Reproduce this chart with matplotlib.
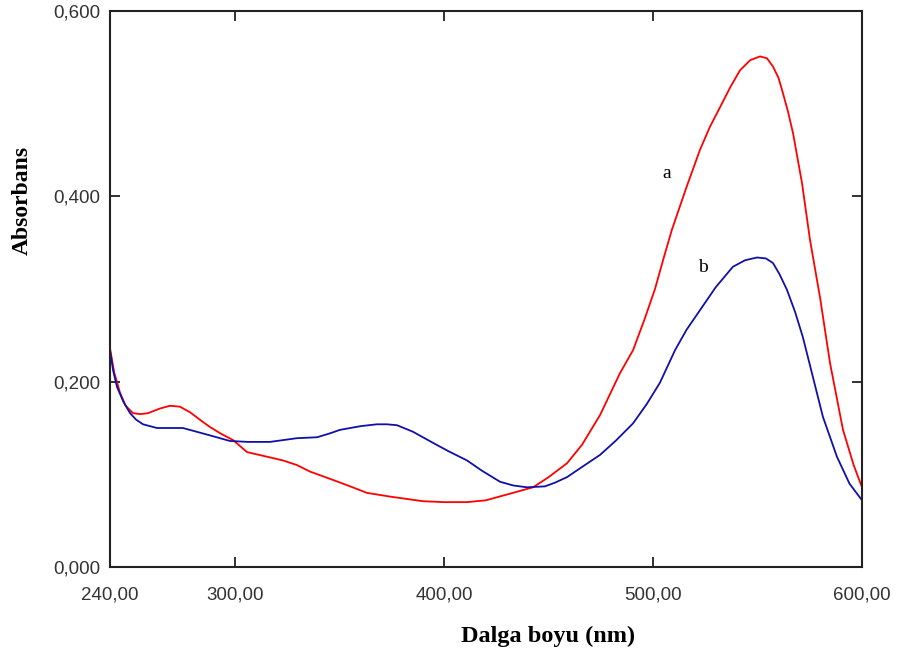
import matplotlib.pyplot as plt

# curve a (red)
wl_a = [240.0, 242.0, 244.8, 247.5, 251.0, 254.5, 258.2, 263.9, 268.7, 273.5,
        278.3, 283.0, 287.9, 293.0, 298.9, 305.6, 315.2, 322.8, 329.5, 335.7,
        346.7, 355.0, 363.0, 374.0, 389.8, 400.0, 410.9, 420.0, 432.9, 442.5,
        450.0, 458.8, 466.0, 474.6, 484.1, 490.4, 496.0, 500.9, 505.0, 509.0,
        516.0, 522.4, 527.2, 532.0, 537.0, 541.6, 546.5, 551.2, 554.5, 557.4,
        560.0, 562.2, 564.5, 567.0, 571.3, 575.1, 579.9, 584.7, 590.9, 596.0,
        600.0]
abs_a = [0.236, 0.210, 0.188, 0.174, 0.166, 0.165, 0.166, 0.171, 0.174, 0.173,
         0.167, 0.159, 0.151, 0.144, 0.137, 0.124, 0.119, 0.115, 0.110, 0.103,
         0.094, 0.087, 0.080, 0.076, 0.071, 0.070, 0.070, 0.072, 0.080, 0.086,
         0.097, 0.112, 0.132, 0.164, 0.209, 0.234, 0.268, 0.300, 0.333, 0.364,
         0.410, 0.450, 0.475, 0.496, 0.518, 0.536, 0.547, 0.551, 0.549, 0.540,
         0.528, 0.511, 0.492, 0.468, 0.414, 0.353, 0.291, 0.220, 0.148, 0.110,
         0.086]

# curve b (blue)
wl_b = [240.0, 241.5, 243.4, 246.5, 249.6, 252.5, 255.8, 262.5, 274.9, 287.9,
        297.4, 306.0, 316.6, 329.5, 339.1, 345.0, 350.1, 360.0, 367.8, 372.5,
        377.4, 385.0, 394.6, 402.0, 410.9, 418.0, 426.7, 433.0, 439.6, 448.2,
        453.0, 458.8, 466.0, 474.6, 482.0, 490.4, 497.0, 503.3, 510.5, 516.0,
        522.4, 530.0, 538.2, 544.0, 549.7, 554.0, 557.4, 560.5, 564.1, 568.0,
        571.7, 576.5, 581.3, 588.0, 594.0, 600.0]
abs_b = [0.234, 0.212, 0.194, 0.178, 0.166, 0.159, 0.154, 0.150, 0.150, 0.142,
         0.136, 0.135, 0.135, 0.139, 0.140, 0.144, 0.148, 0.152, 0.154, 0.154,
         0.153, 0.146, 0.134, 0.125, 0.115, 0.104, 0.092, 0.088, 0.086, 0.087,
         0.091, 0.097, 0.108, 0.121, 0.136, 0.155, 0.176, 0.199, 0.234, 0.256,
         0.277, 0.302, 0.324, 0.331, 0.334, 0.333, 0.328, 0.316, 0.299, 0.275,
         0.248, 0.205, 0.162, 0.119, 0.090, 0.072]

x_ticks = [240, 300, 400, 500, 600]
x_labels = ['240,00', '300,00', '400,00', '500,00', '600,00']
y_ticks = [0.0, 0.2, 0.4, 0.6]
y_labels = ['0,000', '0,200', '0,400', '0,600']

fig = plt.figure(figsize=(8.98, 6.63), dpi=100)
ax = fig.add_axes([110 / 898, 1 - 567 / 663, 752 / 898, 556 / 663])

ax.plot(wl_a, abs_a, color='#ff0000', linewidth=1.3)
ax.plot(wl_b, abs_b, color='#1010a8', linewidth=1.3)

ax.set_xlim(240, 600)
ax.set_ylim(0, 0.6)

ax.set_xticks(x_ticks)
ax.set_xticklabels(x_labels)
ax.set_yticks(y_ticks)
ax.set_yticklabels(y_labels)

ax.tick_params(direction='in', length=7, width=1.3, top=True, right=True,
               colors='#222222', labelsize=13.5)
ax.tick_params(axis='x', pad=14)
ax.tick_params(axis='y', pad=7)
for lab in ax.get_xticklabels() + ax.get_yticklabels():
    lab.set_fontfamily('Liberation Sans')
    lab.set_color('#333333')

for sp in ax.spines.values():
    sp.set_linewidth(1.5)
    sp.set_color('#222222')

ax.text(506.6, 0.425, 'a', fontsize=14, family='Liberation Serif',
        ha='center', va='center')
ax.text(523.9, 0.323, 'b', fontsize=14, family='Liberation Serif',
        ha='center', va='center')

fig.text(22 / 898, 1 - 200 / 663, 'Absorbans', rotation=90, fontsize=17,
         fontweight='bold', family='Liberation Serif', ha='center', va='center')
fig.text(548 / 898, 1 - 636 / 663, 'Dalga boyu (nm)', fontsize=17.5,
         fontweight='bold', family='Liberation Serif', ha='center', va='center')

fig.savefig('out.png', dpi=100)
